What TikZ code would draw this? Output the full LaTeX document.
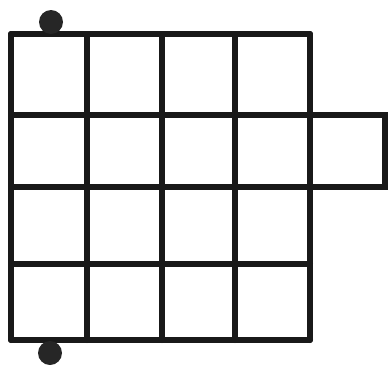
\documentclass[tikz,border=0pt]{standalone}
\usepackage{tikz}

\begin{document}
\begin{tikzpicture}[x=1pt,y=-1pt]
    % Styling
    \tikzset{
        g_line/.style={color=black!90, line width=6pt, line cap=round},
        g_dot/.style={fill=black!85}
    }

    % Bounding box
    \useasboundingbox (0,0) rectangle (389,365);

    % Grid lines
    \foreach \x in {11,87,162,235,310} {
        \draw[g_line] (\x,34) -- (\x,340);
    }
    \foreach \y in {34,115,187,264,340} {
        \draw[g_line] (11,\y) -- (310,\y);
    }

    % Extra cell
    \draw[g_line] (310,115) -- (385,115) -- (385,187) -- (310,187);

    % Dots
    \coordinate (P) at (51,22);
    \coordinate (Q) at (50,353);
    \foreach \p in {P,Q} {
        \fill[g_dot] (\p) circle (12);
    }
\end{tikzpicture}
\end{document}
